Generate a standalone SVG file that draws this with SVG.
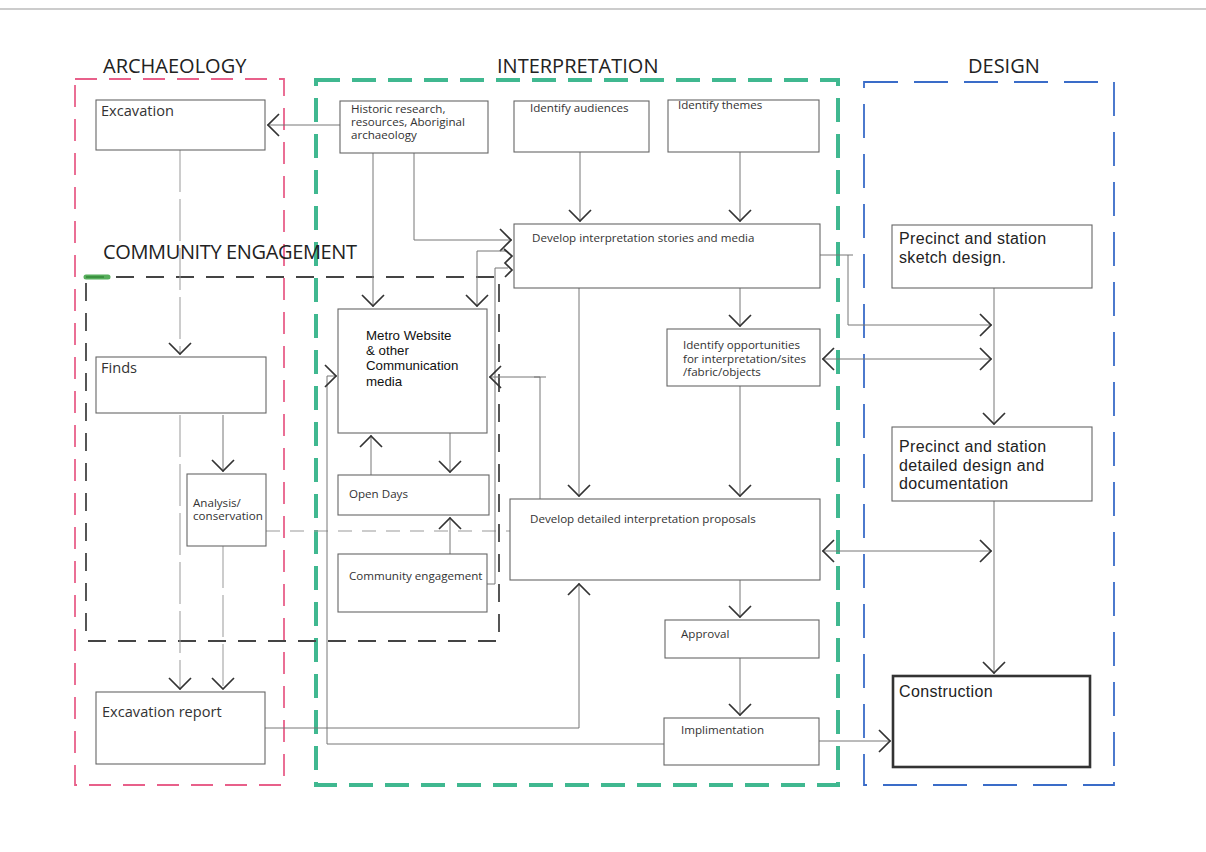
<svg xmlns="http://www.w3.org/2000/svg" width="1206" height="852" viewBox="0 0 1206 852">
<defs>
<style>
.box{fill:#fff;stroke:#666;stroke-width:1.1}
.ln{fill:none;stroke:#777;stroke-width:1}
.dsh{stroke-dasharray:42 7;stroke:#999}
.dsh2{stroke-dasharray:14 10;stroke:#999}
.ah{fill:none;stroke:#333;stroke-width:1.7}
.t{font-family:"Open Sans","Liberation Sans",sans-serif;fill:#333}
.s{font-size:11.6px}
.m{font-size:14.6px}
.l{font-family:"Liberation Sans",Arial,sans-serif;font-size:16px;letter-spacing:0.35px;fill:#222}
.ttl{font-family:"Open Sans","Liberation Sans",sans-serif;font-size:20px;fill:#222}
.ar{font-family:"Liberation Sans",Arial,sans-serif;font-size:13.3px;fill:#111}
</style>
<marker id="a" viewBox="0 0 13 24" refX="13" refY="12" markerWidth="13" markerHeight="24" markerUnits="userSpaceOnUse" orient="auto-start-reverse">
<path d="M1,1 L12,12 L1,23" fill="none" stroke="#333" stroke-width="1.7"/>
</marker>
</defs>
<rect width="1206" height="852" fill="#fff"/>
<line x1="0" y1="9" x2="1206" y2="9" stroke="#bbb" stroke-width="1.5"/>

<g id="frames">
<rect x="75" y="79" width="209" height="706" fill="none" stroke="#e8608a" stroke-width="1.8" stroke-dasharray="22 12"/>
<rect x="316" y="80" width="522" height="705" fill="none" stroke="#40b890" stroke-width="4" stroke-dasharray="24 12"/>
<rect x="864" y="82" width="250" height="703" fill="none" stroke="#3a6cc8" stroke-width="1.8" stroke-dasharray="34 16"/>
<rect x="86" y="277" width="413" height="364" fill="none" stroke="#444" stroke-width="1.8" stroke-dasharray="18 12"/>
<line x1="86" y1="277" x2="108" y2="277" stroke="#3aa040" stroke-width="5" stroke-linecap="round" opacity="0.85"/>
<text class="ttl" x="103" y="73">ARCHAEOLOGY</text>
<text class="ttl" x="497" y="73">INTERPRETATION</text>
<text class="ttl" x="968" y="73">DESIGN</text>
<text class="ttl" x="103" y="259" textLength="254">COMMUNITY ENGAGEMENT</text>
</g>

<g id="connectors">
<path class="ln" d="M340,125 L267,125" marker-end="url(#a)"/>
<path class="ln dsh" d="M180,150 L180,355" marker-end="url(#a)"/>
<path class="ln" d="M223,415 L223,472" marker-end="url(#a)"/>
<path class="ln dsh" d="M180,415 L180,690" marker-end="url(#a)"/>
<path class="ln dsh" d="M223,546 L223,690" marker-end="url(#a)"/>
<path class="ln dsh2" d="M266,531 L510,531"/>
<path class="ln" d="M265,728 L579,728 L579,583" marker-end="url(#a)"/>
<path class="ln" d="M664,744 L327,744 L327,376 L337,376" marker-end="url(#a)"/>
<path class="ln" d="M373,153 L373,307" marker-end="url(#a)"/>
<path class="ln" d="M414,153 L414,240 L512,240" marker-end="url(#a)"/>
<path class="ln" d="M507,251 L477,251 L477,307" marker-end="url(#a)"/>
<polyline class="ah" points="504,249 512,256 505,263 512,270 505,277"/>
<path class="ln" d="M487,584 L495,584 L495,268 L508,268"/>
<path class="ln" d="M540,499 L540,377 L489,377" marker-end="url(#a)"/>
<path class="ln" d="M534,377 L546,377"/>
<path class="ln" d="M450,433 L450,473" marker-end="url(#a)"/>
<path class="ln" d="M371,475 L371,435" marker-end="url(#a)"/>
<path class="ln" d="M450,554 L450,517" marker-end="url(#a)"/>
<path class="ln" d="M580,152 L580,222" marker-end="url(#a)"/>
<path class="ln" d="M740,152 L740,222" marker-end="url(#a)"/>
<path class="ln" d="M579,288 L579,497" marker-end="url(#a)"/>
<path class="ln" d="M740,288 L740,327" marker-end="url(#a)"/>
<path class="ln" d="M740,386 L740,497" marker-end="url(#a)"/>
<path class="ln" d="M740,580 L740,618" marker-end="url(#a)"/>
<path class="ln" d="M740,658 L740,716" marker-end="url(#a)"/>
<path class="ln" d="M819,741 L891,741" marker-end="url(#a)"/>
<path class="ln" d="M820,255 L853,255"/>
<path class="ln" d="M848,255 L848,325 L992,325" marker-end="url(#a)"/>
<path class="ln" d="M822,359 L992,359" marker-start="url(#a)" marker-end="url(#a)"/>
<path class="ln" d="M822,551 L992,551" marker-start="url(#a)" marker-end="url(#a)"/>
<path class="ln" d="M994,288 L994,425" marker-end="url(#a)"/>
<path class="ln" d="M994,501 L994,674" marker-end="url(#a)"/>
</g>

<g id="excavation"><rect class="box" x="96" y="100" width="169" height="50"/><text class="t m" x="101" y="116">Excavation</text></g>
<g id="historic"><rect class="box" x="340" y="101" width="148" height="52"/><text class="t s" x="351" y="113">Historic research,</text><text class="t s" x="351" y="126">resources, Aboriginal</text><text class="t s" x="351" y="139">archaeology</text></g>
<g id="audiences"><rect class="box" x="514" y="101" width="135" height="51"/><text class="t s" x="530" y="112">Identify audiences</text></g>
<g id="themes"><rect class="box" x="668" y="100" width="151" height="52"/><text class="t s" x="678" y="109">Identify themes</text></g>
<g id="stories"><rect class="box" x="514" y="224" width="306" height="64"/><text class="t s" x="532" y="242">Develop interpretation stories and media</text></g>
<g id="sketch"><rect class="box" x="892" y="225" width="200" height="63"/><text class="l" x="899" y="244">Precinct and station</text><text class="l" x="899" y="263">sketch design.</text></g>
<g id="metro"><rect class="box" x="338" y="309" width="149" height="124"/><text class="ar" x="366" y="340">Metro Website</text><text class="ar" x="366" y="355">&amp; other</text><text class="ar" x="366" y="370">Communication</text><text class="ar" x="366" y="386">media</text></g>
<g id="opendays"><rect class="box" x="338" y="475" width="151" height="40"/><text class="t s" x="349" y="498">Open Days</text></g>
<g id="commeng"><rect class="box" x="338" y="554" width="149" height="58"/><text class="t s" x="349" y="580">Community engagement</text></g>
<g id="finds"><rect class="box" x="96" y="357" width="170" height="56"/><text class="t m" x="101" y="373">Finds</text></g>
<g id="analysis"><rect class="box" x="187" y="474" width="79" height="72"/><text class="t s" x="193" y="507">Analysis/</text><text class="t s" x="193" y="520">conservation</text></g>
<g id="opportunities"><rect class="box" x="667" y="329" width="153" height="57"/><text class="t s" x="683" y="349">Identify opportunities</text><text class="t s" x="683" y="363">for interpretation/sites</text><text class="t s" x="683" y="376">/fabric/objects</text></g>
<g id="proposals"><rect class="box" x="510" y="499" width="310" height="81"/><text class="t s" x="530" y="523">Develop detailed interpretation proposals</text></g>
<g id="detailed"><rect class="box" x="892" y="427" width="200" height="74"/><text class="l" x="899" y="452">Precinct and station</text><text class="l" x="899" y="471">detailed design and</text><text class="l" x="899" y="489">documentation</text></g>
<g id="report"><rect class="box" x="96" y="692" width="169" height="72"/><text class="t m" x="102" y="717">Excavation report</text></g>
<g id="approval"><rect class="box" x="665" y="620" width="154" height="38"/><text class="t s" x="681" y="638">Approval</text></g>
<g id="implementation"><rect class="box" x="664" y="718" width="155" height="47"/><text class="t s" x="681" y="734">Implimentation</text></g>
<g id="construction"><rect x="893" y="676" width="197" height="91" fill="#fff" stroke="#333" stroke-width="2.6"/><text class="l" x="899" y="697">Construction</text></g>
</svg>
